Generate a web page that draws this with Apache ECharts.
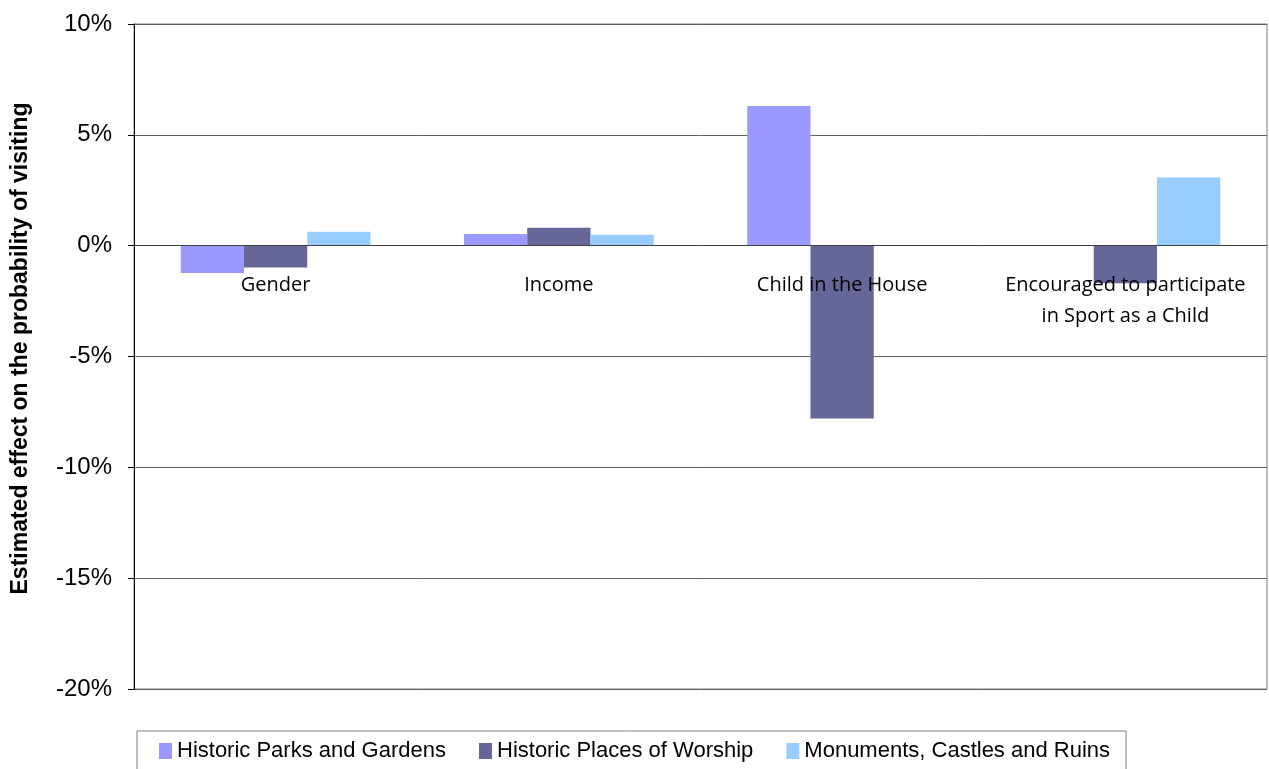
<!DOCTYPE html>
<html>
<head>
<meta charset="utf-8">
<script src="https://cdn.jsdelivr.net/npm/echarts@6/dist/echarts.min.js"></script>
<style>
  html, body { margin: 0; padding: 0; background: #fff; }
  #chart { width: 1269px; height: 769px; }
</style>
</head>
<body>
<div id="chart"></div>
<script>
// categories on the x axis
var categories = ['Gender', 'Income', 'Child in the House', 'Encouraged to participate\nin Sport as a Child']

// estimated effect (%) per series
var parksGardens = [-1.23, 0.53, 6.3, null]
var placesOfWorship = [-0.99, 0.81, -7.8, -1.7]
var monumentsCastles = [0.63, 0.49, null, 3.08]

var seriesNames = ['Historic Parks and Gardens', 'Historic Places of Worship', 'Monuments, Castles and Ruins']

// y axis range
var yMin = -20
var yMax = 10
var yStep = 5

var gridTop = 24
var gridBottom = 80
var chartHeight = 769
var plotHeight = chartHeight - gridTop - gridBottom
// move category axis up from the grid bottom to the 0% line
var zeroOffset = -plotHeight * (0 - yMin) / (yMax - yMin)

var myChart = echarts.init(document.getElementById('chart'))

var option = {
  color: ['#9999FF', '#666699', '#99CCFF'],
  animation: false,
  grid: {
    left: 134,
    right: 2,
    top: gridTop,
    bottom: gridBottom,
    containLabel: false,
    outerBoundsMode: 'none',
    show: true,
    borderColor: '#808080',
    borderWidth: 1
  },
  legend: {
    left: 137,
    top: 731,
    padding: [9, 16, 12, 22],
    itemGap: 33,
    itemWidth: 13,
    itemHeight: 16,
    icon: 'rect',
    borderColor: '#808080',
    borderWidth: 1,
    textStyle: {
      fontFamily: 'Liberation Sans, Arial, sans-serif',
      fontSize: 22,
      color: '#000'
    },
    data: seriesNames
  },
  xAxis: {
    type: 'category',
    data: categories,
    z: 10,
    offset: zeroOffset,
    axisTick: { show: false },
    axisLine: {
      onZero: false,
      lineStyle: { color: '#404040', width: 1 }
    },
    axisLabel: {
      margin: 24,
      color: '#000',
      fontFamily: 'Open Sans, sans-serif',
      fontSize: 20,
      lineHeight: 31,
      interval: 0
    }
  },
  yAxis: {
    type: 'value',
    min: yMin,
    max: yMax,
    interval: yStep,
    name: 'Estimated effect on the probability of visiting',
    nameLocation: 'middle',
    nameGap: 102,
    nameTextStyle: {
      fontFamily: 'Liberation Sans, Arial, sans-serif',
      fontWeight: 'bold',
      fontSize: 23,
      color: '#000',
      padding: [0, 0, 0, 16]
    },
    axisLine: {
      show: true,
      lineStyle: { color: '#000', width: 1 }
    },
    axisTick: {
      show: true,
      length: 6,
      lineStyle: { color: '#000' }
    },
    axisLabel: {
      margin: 22,
      color: '#000',
      fontFamily: 'Liberation Sans, Arial, sans-serif',
      fontSize: 24,
      formatter: '{value}%'
    },
    splitLine: {
      show: true,
      lineStyle: { color: '#606060', width: 1 }
    }
  },
  series: [
    {
      name: seriesNames[0],
      type: 'bar',
      barGap: '0%',
      barCategoryGap: '33%',
      data: parksGardens
    },
    {
      name: seriesNames[1],
      type: 'bar',
      barGap: '0%',
      barCategoryGap: '33%',
      data: placesOfWorship
    },
    {
      name: seriesNames[2],
      type: 'bar',
      barGap: '0%',
      barCategoryGap: '33%',
      data: monumentsCastles
    }
  ]
}

myChart.setOption(option)
</script>
</body>
</html>
